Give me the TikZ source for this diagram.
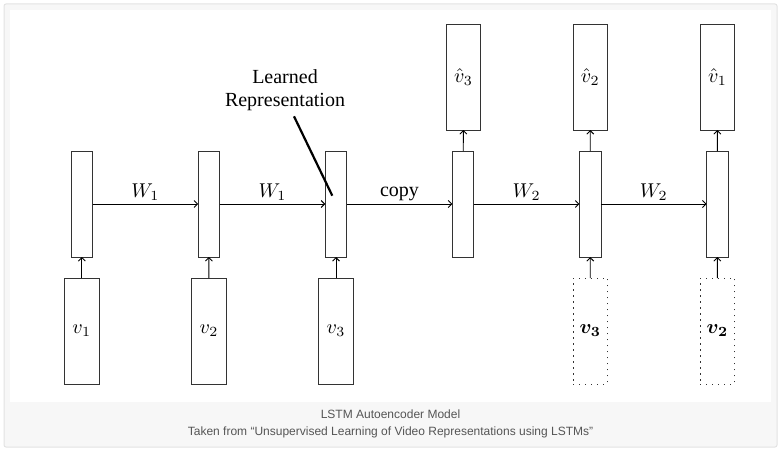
\documentclass[tikz,border=0pt]{standalone}
\usepackage{amsmath}
\usepackage{fontspec}
\usetikzlibrary{arrows.meta}
\newfontfamily\timesfont{Liberation Serif}
\newfontfamily\capfont{Liberation Sans}
\definecolor{capgray}{HTML}{F7F7F7}
\definecolor{framegray}{HTML}{E2E2E2}
\definecolor{captext}{HTML}{555555}
\newcommand{\dbl}[1]{\scalebox{2}{#1}}
\begin{document}
\begin{tikzpicture}[x=1pt, y=-1pt, >={Straight Barb[length=3.5pt,width=7pt]}, line width=0.9pt,
  cell/.style={draw=black!80, inner sep=0, outer sep=0, minimum width=21.5pt, minimum height=106pt},
  frame/.style={draw=black!80, inner sep=0, outer sep=0, minimum width=34.3pt, minimum height=106pt},
  ghost/.style={frame, dash pattern=on 1.2pt off 4.8pt},
  wlabel/.style={midway, above=3pt, inner sep=0},
  tlabel/.style={midway, above=3pt, inner sep=0, font=\timesfont\fontsize{20}{24}\selectfont}]
\useasboundingbox (0,0) rectangle (781,452);
\draw[framegray, fill=capgray, rounded corners=2pt, line width=1pt] (4,4) rectangle (777,447);
\fill[white] (10,10) rectangle (771,402);

% LSTM cells
\foreach \i in {1,...,6}
  \node[cell] (h\i) at ({81.8+127.1*(\i-1)},204) {};

% inputs
\node[frame] (x1) at (81.8,331) {\dbl{$v_1$}};
\node[frame] (x2) at (208.9,331) {\dbl{$v_2$}};
\node[frame] (x3) at (336,331) {\dbl{$v_3$}};
\node[ghost] (x5) at (590.3,331) {\dbl{$\boldsymbol{v_3}$}};
\node[ghost] (x6) at (717.4,331) {\dbl{$\boldsymbol{v_2}$}};

% reconstructions
\node[frame] (y4) at (463.5,77) {\dbl{$\hat{v}_3$}};
\node[frame] (y5) at (590.3,77) {\dbl{$\hat{v}_2$}};
\node[frame] (y6) at (717.4,77) {\dbl{$\hat{v}_1$}};

\draw[->] (x1) -- (h1);
\draw[->] (x2) -- (h2);
\draw[->] (x3) -- (h3);
\draw[->] (x5) -- (h5);
\draw[->] (x6) -- (h6);
\draw[->] (h4) -- (y4);
\draw[->] (h5) -- (y5);
\draw[->] (h6) -- (y6);

\draw[->] (h1) -- node[wlabel]{\dbl{$W_1$}} (h2);
\draw[->] (h2) -- node[wlabel]{\dbl{$W_1$}} (h3);
\draw[->] (h3) -- node[tlabel]{copy} (h4);
\draw[->] (h4) -- node[wlabel]{\dbl{$W_2$}} (h5);
\draw[->] (h5) -- node[wlabel]{\dbl{$W_2$}} (h6);

\node[font=\timesfont\fontsize{20}{23}\selectfont, align=center] (lrep) at (285,90) {Learned\\Representation};
\draw[line width=2.2pt] ([xshift=9pt,yshift=-2pt]lrep.south) -- ([shift={(-3.7,-8.3)}]h3.center);

\node[font=\capfont\fontsize{12}{17}\selectfont, text=captext, align=center] (cap) at (390.5,423.5)
  {LSTM Autoencoder Model\\Taken from “Unsupervised Learning of Video Representations using LSTMs”};
\end{tikzpicture}
\end{document}
